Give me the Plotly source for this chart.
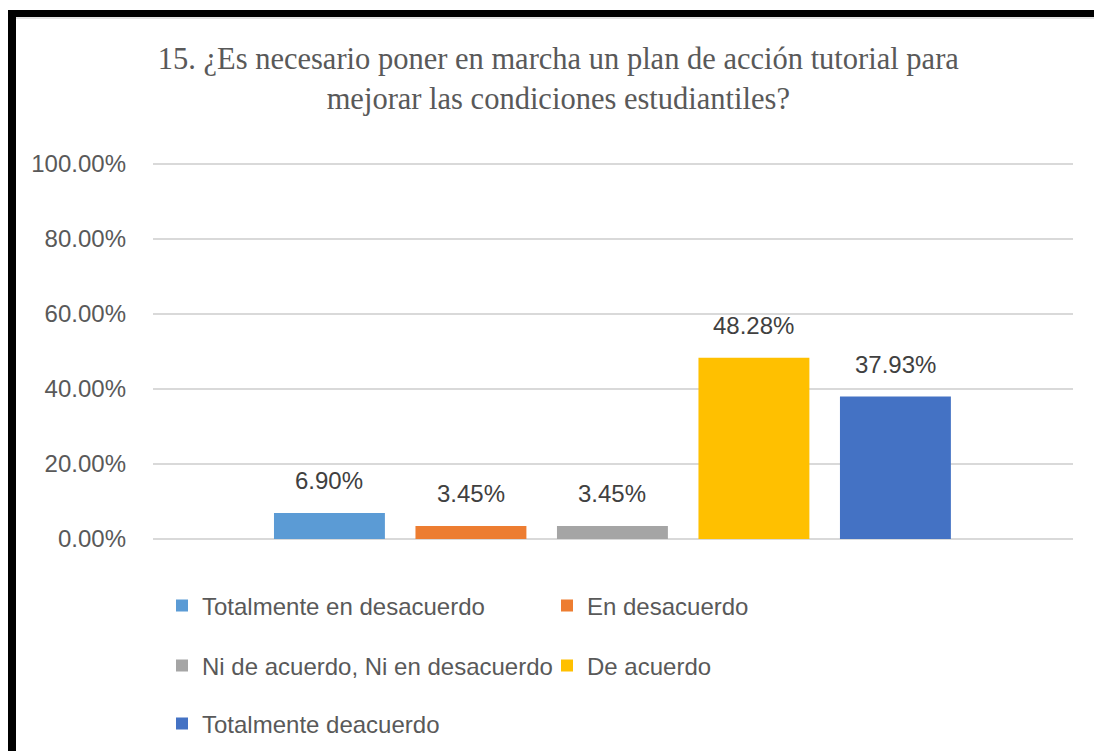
import plotly.graph_objects as go

categories = ["Totalmente en desacuerdo", "En desacuerdo", "Ni de acuerdo, Ni en desacuerdo",
              "De acuerdo", "Totalmente deacuerdo"]
values = [6.90, 3.45, 3.45, 48.28, 37.93]
colors = ["#5B9BD5", "#ED7D31", "#A5A5A5", "#FFC000", "#4472C4"]
y_ticks = [0, 20, 40, 60, 80, 100]
title_text = "15. ¿Es necesario poner en marcha un plan de acción tutorial para<br>mejorar las condiciones estudiantiles?"

# page has an 8px body margin, so the figure is 8px smaller than the window
W, H = 1094, 743
L, R, T, B = 145, 1065, 154, 531  # plot area in figure px

def px_x(x):
    return (x - L) / (R - L)

def px_y(y):
    return (B - y) / (B - T)

FONT = "Liberation Sans"
legend_rows = [[0, 1], [2, 3], [4]]
legend_names = ["legend", "legend2", "legend3"]
trace_legend = {}
for r, row in enumerate(legend_rows):
    for i in row:
        trace_legend[i] = legend_names[r]

fig = go.Figure()
for i, (c, v, col) in enumerate(zip(categories, values, colors)):
    fig.add_trace(go.Bar(
        x=[c], y=[v], name=c, marker=dict(color=col, line=dict(width=0)),
        legend=trace_legend[i], hoverinfo="skip",
    ))

for c, v in zip(categories, values):
    fig.add_annotation(x=c, y=v, text=f"{v:.2f}%", showarrow=False,
                       yanchor="bottom", yshift=17,
                       font=dict(family=FONT, size=24, color="#404040"))

# black frame (top and left)
fig.add_shape(type="rect", xref="paper", yref="paper", x0=px_x(-5), x1=px_x(1110),
              y0=px_y(9), y1=px_y(2), fillcolor="black", line=dict(width=0), layer="above")
fig.add_shape(type="rect", xref="paper", yref="paper", x0=px_x(0), x1=px_x(8),
              y0=px_y(760), y1=px_y(2), fillcolor="black", line=dict(width=0), layer="above")
# faint grey edge under the frame
fig.add_shape(type="line", xref="paper", yref="paper", x0=px_x(8), x1=px_x(1110),
              y0=px_y(10), y1=px_y(10), line=dict(color="#C8C8C8", width=1), layer="above")

legend_common = dict(orientation="h", xref="container", yref="container",
                     xanchor="left", yanchor="middle", entrywidth=340,
                     font=dict(family=FONT, size=24, color="#595959"),
                     bgcolor="rgba(0,0,0,0)", itemclick=False, itemdoubleclick=False)
row_y = [598, 658, 716]
leg_x = 154 / W

fig.update_layout(
    width=W, height=H,
    margin=dict(l=L, r=W - R, t=T, b=H - B, pad=0),
    paper_bgcolor="white", plot_bgcolor="white",
    barmode="overlay", bargap=0.216,
    showlegend=True,
    title=dict(text=title_text, x=0.503, xanchor="center", xref="container",
               y=1 - 61 / H, yanchor="top", yref="container",
               font=dict(family="Liberation Serif", size=30.5, color="#595959")),
    xaxis=dict(showticklabels=False, showgrid=False, zeroline=False, showline=False,
               ticks="", range=[-1.247, 5.255], fixedrange=True),
    yaxis=dict(range=[0, 100.4], tickvals=y_ticks, ticktext=[f"{t:.2f}%" for t in y_ticks],
               showgrid=True, gridcolor="#D9D9D9", gridwidth=1.5,
               zeroline=True, zerolinecolor="#D9D9D9", zerolinewidth=1.5,
               showline=False, ticks="", ticklabelstandoff=26,
               tickfont=dict(family=FONT, size=24, color="#595959"), fixedrange=True),
    legend=dict(**legend_common, x=leg_x, y=1 - row_y[0] / H),
    legend2=dict(**legend_common, x=leg_x, y=1 - row_y[1] / H),
    legend3=dict(**legend_common, x=leg_x, y=1 - row_y[2] / H),
)

fig.write_html("out.html")
